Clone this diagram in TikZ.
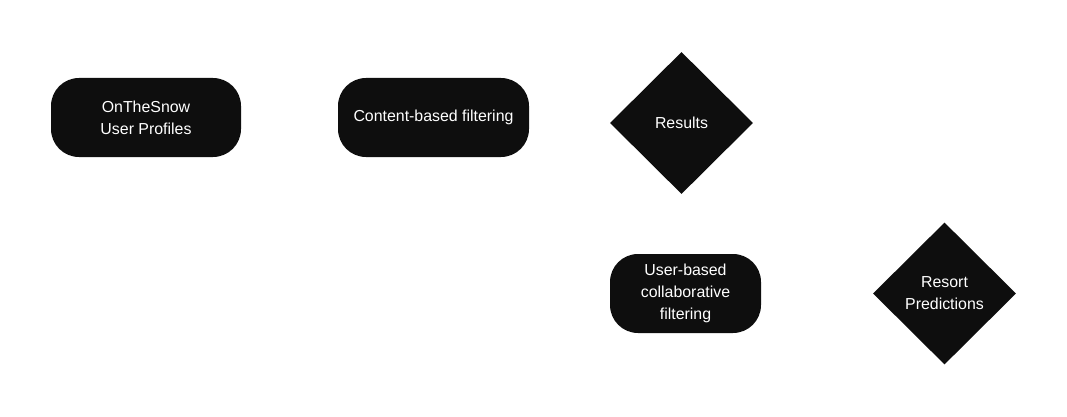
\documentclass[tikz,border=0pt]{standalone}
\usepackage{fontspec}
\setmainfont{Liberation Sans}
\usetikzlibrary{shapes.geometric}
\definecolor{boxfill}{RGB}{14,14,14}
\begin{document}
\begin{tikzpicture}[x=1pt,y=-1pt,
  roundbox/.style={draw=none,fill=boxfill,rounded corners=28pt,text=white,
    minimum height=79pt,inner sep=0pt,align=center,
    font=\fontsize{15.9}{22}\selectfont},
  decision/.style={diamond,draw=none,fill=boxfill,text=white,inner sep=0pt,
    minimum width=143pt,minimum height=142pt,align=center,
    font=\fontsize{15.9}{22}\selectfont}]
\useasboundingbox (0,0) rectangle (1067,417);
\node[roundbox,minimum width=190pt] (profiles) at (146,117.5) {OnTheSnow\\User Profiles};
\node[roundbox,minimum width=191pt] (content) at (433.5,117.5) {Content-based filtering};
\node[decision] (results) at (681.5,123) {Results};
\node[roundbox,minimum width=151pt] (userbased) at (685.5,293.5) {User-based\\collaborative\\filtering};
\node[decision] (resort) at (944.5,293.5) {Resort\\Predictions};
\end{tikzpicture}
\end{document}
